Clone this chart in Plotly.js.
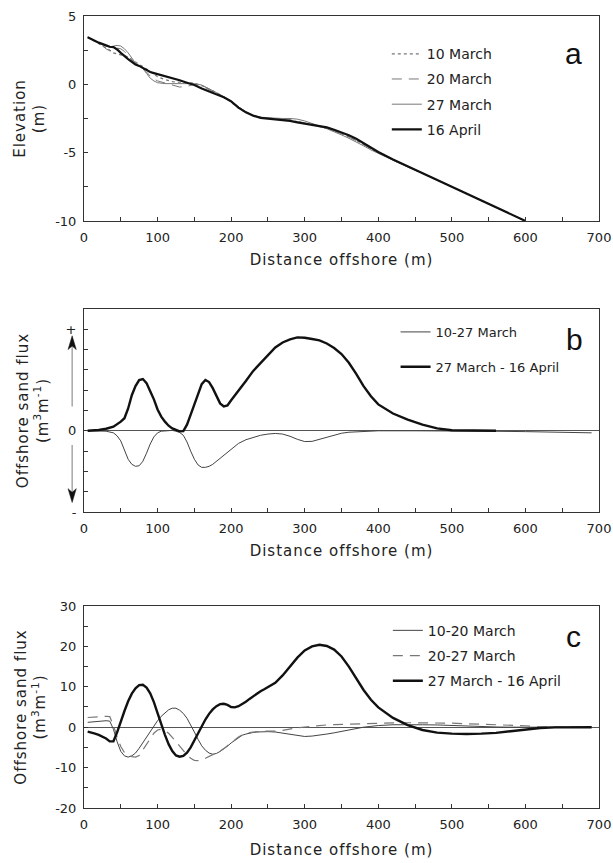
<!DOCTYPE html>
<html>
<head>
<meta charset="utf-8">
<script src="https://cdn.plot.ly/plotly-3.0.1.min.js"></script>
<style>
  html, body { margin: 0; padding: 0; background: #fff; }
  #chart { width: 613px; height: 863px; }
  text.xtitle, text.x2title, text.x3title, text.ytitle, text.y2title, text.y3title { letter-spacing: 1px; }
</style>
</head>
<body>
<div id="chart"></div>
<script>
// ---------- Panel a : beach profiles (elevation, m) ----------
const distA = [5,10,20,30,35,40,45,50,55,60,65,70,75,80,85,90,95,100,
  110,120,130,140,150,160,170,180,190,200,210,220,230,240,250,260,270,280,290,300,
  310,320,330,340,350,360,370,380,390,400,420,440,460,480,500,520,540,560,580,600];
const elev10Mar = [3.45,3.3,3.0,2.7,2.5,2.3,2.2,2.15,2.1,2.0,1.8,1.6,1.45,1.3,1.15,0.95,0.75,0.55,
  0.35,0.2,0.15,0.15,0.1,-0.1,-0.35,-0.6,-0.95,-1.3,-1.75,-2.05,-2.25,-2.4,-2.47,-2.52,-2.56,-2.62,-2.72,-2.84,
  -2.96,-3.08,-3.22,-3.4,-3.6,-3.84,-4.1,-4.4,-4.7,-5.0,-5.52,-6.0,-6.5,-7.0,-7.5,-8.0,-8.5,-9.0,-9.5,-10.0];
const elev20Mar = [3.45,3.3,3.05,2.6,2.45,2.5,2.65,2.6,2.4,2.1,1.8,1.5,1.3,1.15,0.9,0.6,0.4,0.25,
  0.1,-0.05,-0.2,-0.15,0.0,-0.1,-0.4,-0.65,-0.95,-1.25,-1.7,-2.05,-2.3,-2.42,-2.48,-2.52,-2.55,-2.6,-2.7,-2.82,
  -2.95,-3.08,-3.22,-3.4,-3.62,-3.86,-4.12,-4.42,-4.72,-5.0,-5.55,-6.02,-6.5,-7.0,-7.5,-8.0,-8.5,-9.0,-9.5,-10.0];
const elev27Mar = [3.45,3.3,3.05,2.8,2.72,2.8,2.85,2.8,2.6,2.3,1.9,1.55,1.35,1.15,0.8,0.45,0.25,0.12,
  0.05,0.05,0.1,0.1,0.05,-0.05,-0.3,-0.6,-0.9,-1.2,-1.65,-2.0,-2.25,-2.4,-2.45,-2.5,-2.5,-2.5,-2.55,-2.68,
  -2.85,-3.05,-3.25,-3.45,-3.7,-3.95,-4.2,-4.5,-4.8,-5.05,-5.6,-6.05,-6.5,-7.0,-7.5,-8.0,-8.5,-9.0,-9.5,-10.0];
const elev16Apr = [3.45,3.3,3.05,2.85,2.75,2.72,2.55,2.3,2.05,1.85,1.65,1.45,1.35,1.2,1.0,0.9,0.82,0.75,
  0.6,0.45,0.3,0.12,-0.05,-0.3,-0.5,-0.7,-0.95,-1.25,-1.7,-2.05,-2.3,-2.45,-2.5,-2.55,-2.6,-2.68,-2.78,-2.88,
  -2.98,-3.05,-3.15,-3.32,-3.5,-3.72,-3.98,-4.3,-4.62,-4.95,-5.5,-6.0,-6.5,-7.0,-7.5,-8.0,-8.5,-9.0,-9.5,-10.0];
const namesA = ['10 March','20 March','27 March','16 April'];

// ---------- Panel b : relative offshore sand flux (arbitrary units) ----------
const distB1 = [5,10,20,30,40,50,55,60,65,70,75,80,85,90,95,100,105,110,115,120,125,130,135,140,145,150,
  155,160,165,170,175,180,185,190,195,200,210,220,230,240,250,260,270,280,290,300,
  310,320,330,340,350,360,370,380,390,400,420,440,460,480,500,520,540,560];
const flux27MarTo16Apr = [0,0.01,0.04,0.1,0.2,0.45,0.62,1.1,1.75,2.2,2.5,2.55,2.35,1.95,1.55,1.05,
  0.7,0.45,0.25,0.12,0.03,-0.03,-0.02,0.3,0.8,1.3,1.85,2.3,2.5,2.4,2.1,1.7,1.35,1.2,1.25,1.5,
  1.95,2.45,2.95,3.35,3.75,4.1,4.35,4.5,4.6,4.58,4.52,4.45,4.3,4.08,3.78,3.35,2.8,2.2,1.7,1.3,
  0.85,0.55,0.3,0.12,0.03,0.01,0,0];
const distB2 = [5,10,20,30,40,45,50,55,60,65,70,75,80,85,90,95,100,105,110,115,120,125,130,135,140,
  145,150,155,160,165,170,175,180,190,200,210,220,230,240,250,260,270,280,290,300,310,320,330,340,350,360,
  380,400,450,500,550,600,650,690];
const flux10To27Mar = [0,0,0,-0.02,-0.1,-0.25,-0.5,-0.95,-1.4,-1.65,-1.75,-1.72,-1.5,-1.1,-0.65,
  -0.3,-0.1,-0.02,0,0.02,0.02,-0.02,-0.08,-0.22,-0.55,-1.0,-1.4,-1.68,-1.8,-1.8,-1.75,-1.65,-1.5,
  -1.2,-0.9,-0.62,-0.44,-0.32,-0.22,-0.16,-0.13,-0.16,-0.27,-0.42,-0.53,-0.52,-0.42,-0.3,-0.2,-0.12,-0.07,
  -0.02,0,0,0,-0.02,-0.04,-0.07,-0.1];

// ---------- Panel c : offshore sand flux (m3/m) ----------
const distC = [5,10,15,20,25,30,35,40,45,50,55,60,65,70,75,80,85,90,95,100,
  105,110,115,120,125,130,135,140,145,150,155,160,165,170,175,180,185,190,195,200,
  205,210,215,220,225,230,235,240,245,250,260,270,280,290,300,310,320,330,340,350,360,370,380,390,400,
  420,440,460,480,500,520,540,560,580,600,620,640,660,680,690];
const fluxC10To20Mar = [1.2,1.3,1.4,1.5,1.55,1.6,1.5,-0.5,-3.6,-6.0,-7.1,-7.4,-7.1,-6.4,-5.2,-3.8,-2.4,-1.2,0.2,1.6,
  2.7,3.6,4.3,4.7,4.7,4.2,3.4,2.2,0.6,-1.2,-3.0,-4.6,-5.7,-6.4,-6.7,-6.5,-6.0,-5.4,-4.7,-3.9,
  -3.2,-2.5,-2.0,-1.7,-1.45,-1.3,-1.2,-1.15,-1.1,-1.1,-1.2,-1.45,-1.8,-2.1,-2.3,-2.2,-2.0,-1.7,-1.4,-1.05,-0.65,-0.3,0.0,0.2,0.4,
  0.6,0.65,0.6,0.55,0.4,0.25,0.15,0.05,0,0,0,0,0,0,0];
const fluxC20To27Mar = [2.4,2.5,2.55,2.6,2.65,2.7,2.6,0.5,-2.5,-4.8,-6.3,-7.0,-7.3,-7.4,-7.0,-5.6,-4.2,-2.8,-1.5,-0.7,
  -0.5,-0.8,-1.5,-2.5,-3.6,-4.8,-5.9,-6.9,-7.7,-8.2,-8.3,-8.1,-7.7,-7.2,-6.8,-6.5,-6.0,-5.3,-4.6,-3.8,
  -3.1,-2.4,-1.9,-1.6,-1.35,-1.2,-1.1,-1.05,-1.0,-1.0,-1.0,-0.8,-0.45,-0.15,0.05,0.25,0.4,0.55,0.65,0.72,0.8,0.85,0.9,0.95,1.0,
  1.05,1.1,1.1,1.05,1.0,0.85,0.75,0.65,0.5,0.35,0.1,0,0,0,0];
const fluxC27MarTo16Apr = [-1.1,-1.3,-1.6,-1.9,-2.3,-2.8,-3.5,-3.5,-1.3,1.5,4.0,6.4,8.3,9.6,10.4,10.5,9.8,8.4,6.2,3.5,
  0.7,-1.9,-4.2,-5.9,-7.0,-7.3,-7.1,-6.3,-5.0,-3.3,-1.5,0.3,1.9,3.3,4.4,5.2,5.7,5.8,5.5,5.0,
  4.9,5.2,5.7,6.3,7.0,7.7,8.3,8.9,9.4,9.9,11.0,12.8,15.0,17.2,19.0,20.0,20.4,20.1,19.2,17.5,15.0,12.0,9.2,6.8,4.9,
  2.3,0.5,-0.7,-1.35,-1.6,-1.7,-1.6,-1.4,-1.0,-0.6,-0.2,-0.05,0,0,0];

// ---------- tick labels ----------
const xTickVals = [0,100,200,300,400,500,600,700];
const xTickText = ['0','100','200','300','400','500','600','700'];
const yaTickVals = [-10,-5,0,5];
const yaTickText = ['-10','-5','0','5'];
const ybTickVals = [-4,0,5];
const ybTickText = ['-','0','+'];
const ycTickVals = [-20,-10,0,10,20,30];
const ycTickText = ['-20','-10','0','10','20','30'];

const BLACK = '#111', DARK = '#444', GREY = '#777';

const traces = [
  {x: distA, y: elev10Mar, name: namesA[0], xaxis:'x', yaxis:'y', legend:'legend', legendgroup:'a1',
   mode:'lines', line:{color:GREY, width:1.2, dash:'dot'}},
  {x: distA, y: elev20Mar, name: namesA[1], xaxis:'x', yaxis:'y', legend:'legend', legendgroup:'a2',
   mode:'lines', line:{color:GREY, width:1, dash:'10px,7px'}},
  {x: distA, y: elev27Mar, name: namesA[2], xaxis:'x', yaxis:'y', legend:'legend', legendgroup:'a3',
   mode:'lines', line:{color:GREY, width:1}},
  {x: distA, y: elev16Apr, name: namesA[3], xaxis:'x', yaxis:'y', legend:'legend', legendgroup:'a4',
   mode:'lines', line:{color:BLACK, width:2.2}},

  {x: distB2, y: flux10To27Mar, name: '10-27 March', xaxis:'x2', yaxis:'y2', legend:'legend2', legendgroup:'b1',
   mode:'lines', line:{color:DARK, width:1}},
  {x: distB1, y: flux27MarTo16Apr, name: '27 March - 16 April', xaxis:'x2', yaxis:'y2', legend:'legend2', legendgroup:'b2',
   mode:'lines', line:{color:BLACK, width:2.4}},

  {x: distC, y: fluxC10To20Mar, name: '10-20 March', xaxis:'x3', yaxis:'y3', legend:'legend3', legendgroup:'c1',
   mode:'lines', line:{color:DARK, width:1}},
  {x: distC, y: fluxC20To27Mar, name: '20-27 March', xaxis:'x3', yaxis:'y3', legend:'legend3', legendgroup:'c2',
   mode:'lines', line:{color:GREY, width:1.2, dash:'10px,7px'}},
  {x: distC, y: fluxC27MarTo16Apr, name: '27 March - 16 April', xaxis:'x3', yaxis:'y3', legend:'legend3', legendgroup:'c3',
   mode:'lines', line:{color:BLACK, width:2.4}}
];

const tickFont = {family:'DejaVu Sans', size:13, color:'#222'};
const titleFont = {family:'DejaVu Sans', size:15, color:'#222'};
function xAxis(anchor, standoff) {
  return {anchor: anchor, domain:[0,1], range:[0,700], tickmode:'array', tickvals:xTickVals, ticktext:xTickText,
    ticks:'inside', ticklen:4, tickcolor:'#333',
    minor:{tickmode:'linear', tick0:0, dtick:50, ticks:'inside', ticklen:4, tickcolor:'#333', showgrid:false},
    showline:true, mirror:true, linecolor:'#333', linewidth:1,
    showgrid:false, zeroline:false, tickfont:tickFont, ticklabelstandoff:4,
    title:{text:'Distance offshore (m)', font:titleFont, standoff:standoff}};
}
function yAxis(anchor, dom, rng, vals, txt, minorStep, title, standoff, zl) {
  return {anchor: anchor, domain: dom, range: rng, tickmode:'array', tickvals: vals, ticktext: txt,
    ticks:'inside', ticklen:4, tickcolor:'#333',
    minor:{tickmode:'linear', tick0:0, dtick:minorStep, ticks:'inside', ticklen:4, tickcolor:'#333', showgrid:false},
    showline:true, mirror:true, linecolor:'#333', linewidth:1,
    showgrid:false, zeroline: zl, zerolinecolor:'#555', zerolinewidth:1, tickfont:tickFont, ticklabelstandoff:4,
    title:{text:title, font:titleFont, standoff: standoff}};
}

const legendCommon = {bgcolor:'rgba(0,0,0,0)', borderwidth:0, traceorder:'grouped', xanchor:'left', yanchor:'top'};
const letterFont = {family:'Liberation Sans', size:30, color:'#111'};

// direction arrows beside panel b (decoration, in paper-x / y2 units)
const AX = -0.023, HW = 0.008;
const arrowShapes = [
  {type:'line', xref:'paper', yref:'y2', x0:AX, x1:AX, y0:1.2, y1:4.2, line:{color:'#999', width:1.3}},
  {type:'path', xref:'paper', yref:'y2',
   path:`M ${AX-HW},4.0 L ${AX},4.68 L ${AX+HW},4.0 L ${AX},4.18 Z`, fillcolor:'#111', line:{color:'#111', width:0.5}},
  {type:'line', xref:'paper', yref:'y2', x0:AX, x1:AX, y0:-0.7, y1:-3.1, line:{color:'#999', width:1.3}},
  {type:'path', xref:'paper', yref:'y2',
   path:`M ${AX-HW},-2.85 L ${AX},-3.53 L ${AX+HW},-2.85 L ${AX},-3.03 Z`, fillcolor:'#111', line:{color:'#111', width:0.5}}
];

const layout = {
  width:613, height:863,
  margin:{l:84, r:14, t:16, b:55},
  paper_bgcolor:'#fff', plot_bgcolor:'#fff',
  font:{family:'DejaVu Sans', size:13, color:'#222'},
  showlegend:true,
  xaxis: xAxis('y', 10),
  yaxis: yAxis('x', [0.7412, 1], [-10, 5], yaTickVals, yaTickText, 2.5, 'Elevation<br>(m)', 6, false),
  xaxis2: xAxis('y2', 10),
  yaxis2: yAxis('x2', [0.3737, 0.6301], [-4, 6], ybTickVals, ybTickText, 1,
                'Offshore sand flux<br>(m<sup>3</sup>m<sup>-1</sup>)', 13, true),
  xaxis3: xAxis('y3', 13),
  yaxis3: yAxis('x3', [0, 0.2551], [-20, 30], ycTickVals, ycTickText, 5,
                'Offshore sand flux<br>(m<sup>3</sup>m<sup>-1</sup>)', 5, true),
  legend: Object.assign({}, legendCommon, {x:0.588, y:0.972, font:{family:'DejaVu Sans', size:14, color:'#222'}, tracegroupgap:4}),
  legend2: Object.assign({}, legendCommon, {x:0.605, y:0.620, font:{family:'DejaVu Sans', size:13, color:'#222'}, tracegroupgap:15}),
  legend3: Object.assign({}, legendCommon, {x:0.590, y:0.244, font:{family:'DejaVu Sans', size:14, color:'#222'}, tracegroupgap:4}),
  shapes: arrowShapes,
  annotations: [
    {text:'a', xref:'x domain', yref:'y domain', x:0.951, y:0.815, xanchor:'center', yanchor:'middle',
     showarrow:false, font:letterFont},
    {text:'b', xref:'x2 domain', yref:'y2 domain', x:0.953, y:0.852, xanchor:'center', yanchor:'middle',
     showarrow:false, font:letterFont},
    {text:'c', xref:'x3 domain', yref:'y3 domain', x:0.951, y:0.851, xanchor:'center', yanchor:'middle',
     showarrow:false, font:letterFont}
  ]
};

Plotly.newPlot('chart', traces, layout, {staticPlot:true, displayModeBar:false});
</script>
</body>
</html>
